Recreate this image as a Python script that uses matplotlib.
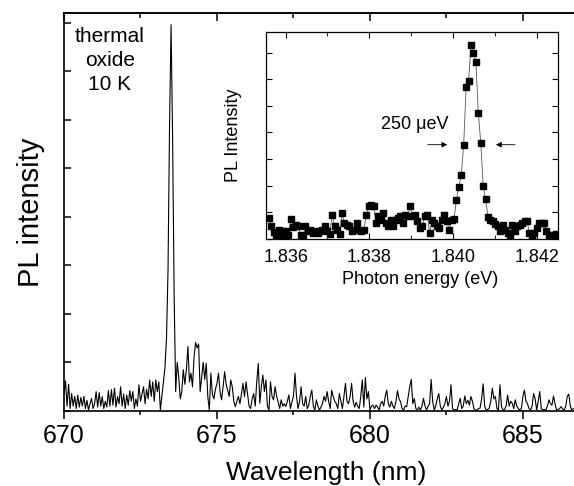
import numpy as np
import matplotlib

matplotlib.use('Agg')
import matplotlib.pyplot as plt  # noqa: E402
from matplotlib.ticker import MultipleLocator, NullFormatter  # noqa: E402

plt.rcParams['font.family'] = ['Liberation Sans', 'DejaVu Sans']

# main spectrum: 670.00 nm onwards, 0.05 nm per sample (intensity in tick units)
wl_start = 670.0
wl_step = 0.05
pl_main = [
    0.35, 0.62, 0.1, 0.55, 0.05, 0.36, 0.1, 0.3, 0.05, 0.33,
    0.08, 0.28, 0.1, 0.3, 0.05, 0.22, 0.02, 0.15, 0.26, 0.05,
    0.15, 0.4, 0.08, 0.38, 0.1, 0.3, 0.05, 0.2, 0.08, 0.42,
    0.1, 0.44, 0.12, 0.47, 0.08, 0.3, 0.15, 0.5, 0.1, 0.35,
    0.05, 0.33, 0.12, 0.42, 0.2, 0.4, 0.05, 0.25, 0.1, 0.54,
    0.2, 0.35, 0.5, 0.15, 0.45, 0.25, 0.64, 0.3, 0.6, 0.2,
    0.64, 0.4, 0.6, 0.02, 0.3, 0.6, 0.9, 1.5, 2.9, 5.9,
    7.96, 5.6, 2.4, 0.4, 1.0, 0.7, 0.25, 0.4, 0.85, 0.55,
    0.85, 1.33, 0.6, 0.78, 0.5, 1.1, 1.41, 1.3, 1.38, 0.4,
    0.7, 1.0, 0.65, 0.98, 0.3, 0.02, 0.78, 0.35, 0.25, 0.45,
    0.57, 0.78, 0.4, 0.23, 0.5, 0.81, 0.55, 0.43, 0.3, 0.64,
    0.5, 0.2, 0.09, 0.2, 0.3, 0.15, 0.35, 0.57, 0.3, 0.6,
    0.35, 0.1, 0.05, 0.25, 0.36, 0.1, 0.6, 0.98, 0.16, 0.5,
    0.74, 0.4, 0.64, 0.1, 0.02, 0.6, 0.3, 0.23, 0.5, 0.3,
    0.19, 0.05, 0.23, 0.1, 0.15, 0.09, 0.2, 0.33, 0.05, 0.19,
    0.3, 0.78, 0.3, 0.05, 0.2, 0.5, 0.15, 0.1, 0.3, 0.05,
    0.12, 0.3, 0.43, 0.1, 0.02, 0.23, 0.1, 0.02, 0.08, 0.15,
    0.3, 0.2, 0.4, 0.2, 0.05, 0.43, 0.3, 0.2, 0.15, 0.05,
    0.36, 0.2, 0.05, 0.3, 0.57, 0.2, 0.15, 0.3, 0.57, 0.2,
    0.08, 0.18, 0.1, 0.05, 0.3, 0.64, 0.08, 0.69, 0.25, 0.4,
    0.02, 0.1, 0.12, 0.05, 0.12, 0.08, 0.02, 0.15, 0.2, 0.1,
    0.3, 0.43, 0.15, 0.08, 0.2, 0.1, 0.05, 0.2, 0.42, 0.25,
    0.19, 0.05, 0.02, 0.1, 0.09, 0.3, 0.5, 0.65, 0.15, 0.26,
    0.05, 0.02, 0.08, 0.02, 0.1, 0.26, 0.1, 0.02, 0.1, 0.15,
    0.65, 0.2, 0.02, 0.1, 0.25, 0.36, 0.1, 0.02, 0.08, 0.15,
    0.3, 0.1, 0.2, 0.54, 0.05, 0.02, 0.03, 0.02, 0.15, 0.26,
    0.05, 0.1, 0.31, 0.15, 0.22, 0.12, 0.3, 0.2, 0.05, 0.02,
    0.02, 0.05, 0.06, 0.25, 0.56, 0.1, 0.02, 0.03, 0.06, 0.2,
    0.47, 0.25, 0.3, 0.05, 0.02, 0.54, 0.09, 0.02, 0.03, 0.1,
    0.33, 0.1, 0.2, 0.16, 0.05, 0.23, 0.1, 0.05, 0.02, 0.05,
    0.3, 0.43, 0.2, 0.15, 0.05, 0.02, 0.1, 0.36, 0.25, 0.02,
    0.2, 0.4, 0.05, 0.02, 0.03, 0.02, 0.1, 0.23, 0.15, 0.12,
    0.31, 0.15, 0.02, 0.03, 0.05, 0.09, 0.04, 0.02, 0.1, 0.3,
    0.35, 0.1, 0.02, 0.05,
]

# inset: high resolution scan around the line (eV)
e_start = 1.83560
e_step = 0.0000582
pl_inset = [
    0.79, 0.47, 0.25, 0.16, 0.35, 0.1, 0.3, 0.29, 0.16, 0.75,
    0.45, 0.54, 0.47, 0.16, 0.1, 0.47, 0.29, 0.35, 0.22, 0.29,
    0.22, 0.29, 0.35, 0.5, 0.29, 0.2, 0.91, 0.47, 0.35, 0.2,
    0.97, 0.6, 0.54, 0.47, 0.29, 0.35, 0.6, 0.35, 0.3, 0.35,
    0.91, 1.22, 1.29, 1.25, 0.6, 0.85, 0.72, 0.97, 0.6, 0.47,
    0.72, 0.47, 0.72, 0.8, 0.85, 0.6, 0.91, 0.85, 1.22, 0.85,
    0.91, 0.66, 0.41, 0.47, 0.85, 0.91, 0.22, 0.72, 0.6, 0.47,
    0.41, 0.72, 0.91, 0.69, 0.35, 0.72, 0.75, 1.45, 1.97, 2.39,
    3.54, 5.72, 5.94, 7.29, 6.97, 6.66, 4.72, 3.62, 2.0, 1.5,
    0.81, 0.72, 0.66, 0.57, 0.47, 0.29, 0.54, 0.35, 0.22, 0.1,
    0.54, 0.29, 0.47, 0.54, 0.6, 0.66, 0.66, 0.22, 0.1, 0.22,
    0.41, 0.6, 0.6, 0.6, 0.29, 0.16, 0.16, 0.1, 0.2,
]

wavelength = wl_start + wl_step * np.arange(len(pl_main))
energy = e_start + e_step * np.arange(len(pl_inset))

fig = plt.figure(figsize=(5.74, 4.86), dpi=100)

ax = fig.add_axes([64 / 574, 75 / 486, 510 / 574, 398 / 486])
ax.plot(wavelength, pl_main, color='black', lw=0.8)
ax.set_xlim(670, 686.67)
ax.set_ylim(0, 8.2)
ax.xaxis.set_major_locator(MultipleLocator(5))
ax.xaxis.set_minor_locator(MultipleLocator(2.5))
ax.yaxis.set_major_locator(MultipleLocator(1))
ax.yaxis.set_major_formatter(NullFormatter())
ax.tick_params(axis='x', which='both', direction='out', top=False, labelsize=18, width=1.1, pad=4)
ax.tick_params(axis='x', which='major', length=5.5)
ax.tick_params(axis='x', which='minor', length=3)
ax.tick_params(axis='y', which='major', direction='in', length=5, width=1.1)
ax.spines['right'].set_visible(False)
for side in ('left', 'bottom', 'top'):
    ax.spines[side].set_linewidth(1.2)

# inward ticks along the top edge
top = ax.secondary_xaxis('top')
top.xaxis.set_major_locator(MultipleLocator(5))
top.xaxis.set_minor_locator(MultipleLocator(2.5))
top.tick_params(which='both', direction='in', labeltop=False, width=1.1)
top.tick_params(which='major', length=5.5)
top.tick_params(which='minor', length=3.5)
top.spines['top'].set_linewidth(1.2)

ax.set_xlabel('Wavelength (nm)', fontsize=19, x=0.514, labelpad=9)
ax.set_ylabel('PL intensity', fontsize=21, labelpad=10)
ax.text(0.090, 0.966, 'thermal\noxide\n10 K', transform=ax.transAxes,
        ha='center', va='top', fontsize=15, linespacing=1.35)

# inset
ins = fig.add_axes([266 / 574, 247 / 486, 292 / 574, 207 / 486])
ins.plot(energy, pl_inset, color='#555555', lw=0.6, marker='s', ms=4,
         mfc='black', mec='black')
ins.set_xlim(1.83553, 1.84251)
ins.set_ylim(0, 7.77)
ins.xaxis.set_major_locator(MultipleLocator(0.002))
ins.xaxis.set_minor_locator(MultipleLocator(0.001))
ins.xaxis.set_major_formatter(plt.FormatStrFormatter('%.3f'))
ins.yaxis.set_major_locator(MultipleLocator(1))
ins.yaxis.set_major_formatter(NullFormatter())
ins.tick_params(which='both', direction='in', top=True, right=True, labelsize=13, pad=7)
ins.tick_params(which='major', length=4)
ins.tick_params(which='minor', length=3)
for side in ins.spines.values():
    side.set_linewidth(0.9)
ins.set_xlabel('Photon energy (eV)', fontsize=13, x=0.527, labelpad=4)
ins.set_ylabel('PL Intensity', fontsize=13, labelpad=10)

ins.text(1.83909, 4.29, '250 \u03bceV', ha='center', va='center', fontsize=13)
arrow = dict(arrowstyle='-|>', lw=0.6, color='black', mutation_scale=8)
ins.annotate('', xy=(1.83993, 3.54), xytext=(1.83933, 3.54), arrowprops=arrow)
ins.annotate('', xy=(1.84096, 3.54), xytext=(1.84155, 3.54), arrowprops=arrow)

fig.savefig('out.png', dpi=100)
plt.close(fig)
